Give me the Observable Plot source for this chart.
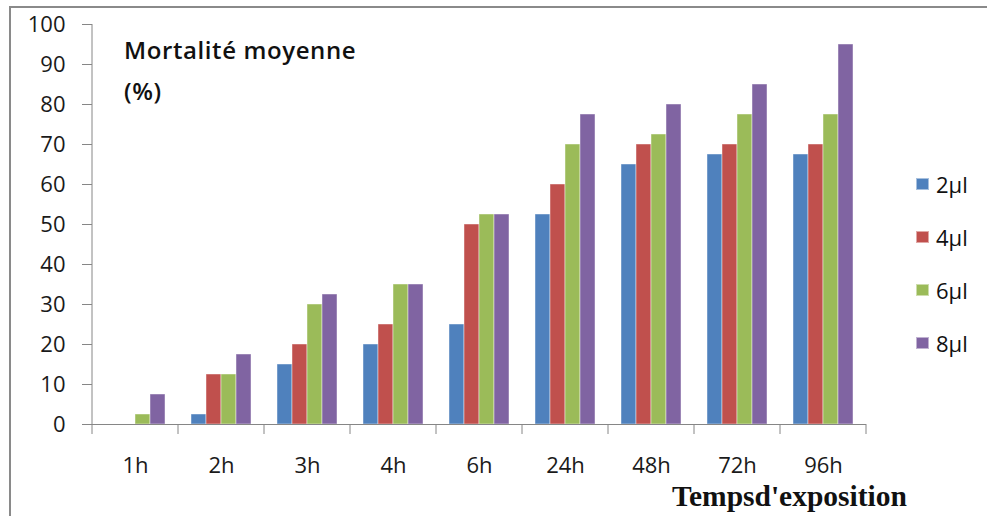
<!DOCTYPE html>
<html><head><meta charset="utf-8">
<script src="https://cdn.jsdelivr.net/npm/d3@7"></script>
<script src="https://cdn.jsdelivr.net/npm/@observablehq/plot@0.6"></script>
<style>
body{margin:0;background:#fff;}
#wrap{position:relative;width:987px;height:516px;overflow:hidden;font-family:"Open Sans",sans-serif;}
#border{position:absolute;left:9px;top:6px;width:1000px;height:540px;border-left:2px solid #8a8a8a;border-top:2px solid #8a8a8a;}
#chart{position:absolute;left:0;top:0;}
#ytitle{position:absolute;left:124px;top:29px;font-size:24px;font-weight:600;letter-spacing:0.6px;line-height:41px;color:#111;white-space:nowrap;}
#xtitle{position:absolute;left:672px;top:479px;font-family:"Liberation Serif",serif;font-weight:bold;font-size:29.5px;line-height:34px;color:#111;white-space:nowrap;}
#legend{position:absolute;left:916px;top:157px;}
.item{display:flex;align-items:center;height:53px;font-size:22px;color:#111;}
.sw{width:13px;height:12px;margin-right:7px;box-sizing:border-box;border:1px solid rgba(255,255,255,0.5);}
</style></head><body>
<div id="wrap"><div id="border"></div><div id="chart"></div>
<div id="ytitle">Mortalité moyenne<br>(%)</div>
<div id="xtitle">Tempsd'exposition</div>
<div id="legend"></div></div>
<script>
const hours = ["1h","2h","3h","4h","6h","24h","48h","72h","96h"];
const doses = ["2µl","4µl","6µl","8µl"];
const colors = ["#4F81BD","#C0504D","#9BBB59","#8064A2"];
const v2 = [0, 2.5, 15, 20, 25, 52.5, 65, 67.5, 67.5];
const v4 = [0, 12.5, 20, 25, 50, 60, 70, 70, 70];
const v6 = [2.5, 12.5, 30, 35, 52.5, 70, 72.5, 77.5, 77.5];
const v8 = [7.5, 17.5, 32.5, 35, 52.5, 77.5, 80, 85, 95];
const yTicks = [0,10,20,30,40,50,60,70,80,90,100];

const series = [v2, v4, v6, v8];
const data = [];
hours.forEach((h, i) => doses.forEach((d, j) => data.push({hour: h, dose: d, value: series[j][i]})));

const plot = Plot.plot({
  width: 987, height: 516,
  marginLeft: 91, marginRight: 121, marginTop: 24, marginBottom: 92,
  style: {fontFamily: "Open Sans", fontSize: "22px", color: "#1a1a1a", background: "transparent", overflow: "visible"},
  fx: {domain: hours, padding: 0, label: null},
  x: {domain: doses, paddingInner: 0, paddingOuter: 0.77, axis: null},
  y: {domain: [0, 100], label: null},
  color: {domain: doses, range: colors},
  marks: [
    Plot.axisY({ticks: yTicks, tickSize: 10, tickPadding: 17, stroke: "#868686", fill: "#1a1a1a", label: null}),
    Plot.axisFx({anchor: "bottom", tickSize: 0, tickPadding: 33, fill: "#1a1a1a", label: null}),
    Plot.barY(data, {fx: "hour", x: "dose", y: "value", fill: "dose", stroke: "#ffffff", strokeOpacity: 0.55, strokeWidth: 0.8, inset: 0}),
    Plot.ruleY([0], {stroke: "#868686", strokeWidth: 1})
  ]
});
document.getElementById("chart").appendChild(plot);

// axis line and category boundary ticks from the plot's own scales
const fx = plot.scale("fx"), ys = plot.scale("y");
const svg = d3.select(plot);
const y0 = ys.apply(0), y100 = ys.apply(100);
const x0 = fx.apply(hours[0]);
svg.append("line").attr("x1", x0).attr("x2", x0).attr("y1", y0).attr("y2", y100).attr("stroke", "#868686");
const bounds = hours.map(h => fx.apply(h)).concat([fx.apply(hours[hours.length-1]) + fx.bandwidth]);
svg.append("g").selectAll("line").data(bounds).join("line")
  .attr("x1", d => d).attr("x2", d => d).attr("y1", y0).attr("y2", y0 + 10).attr("stroke", "#868686");

// legend
const leg = d3.select("#legend");
doses.forEach((d, i) => {
  const it = leg.append("div").attr("class", "item");
  it.append("div").attr("class", "sw").style("background", colors[i]);
  it.append("span").text(d);
});
</script>
</body></html>
